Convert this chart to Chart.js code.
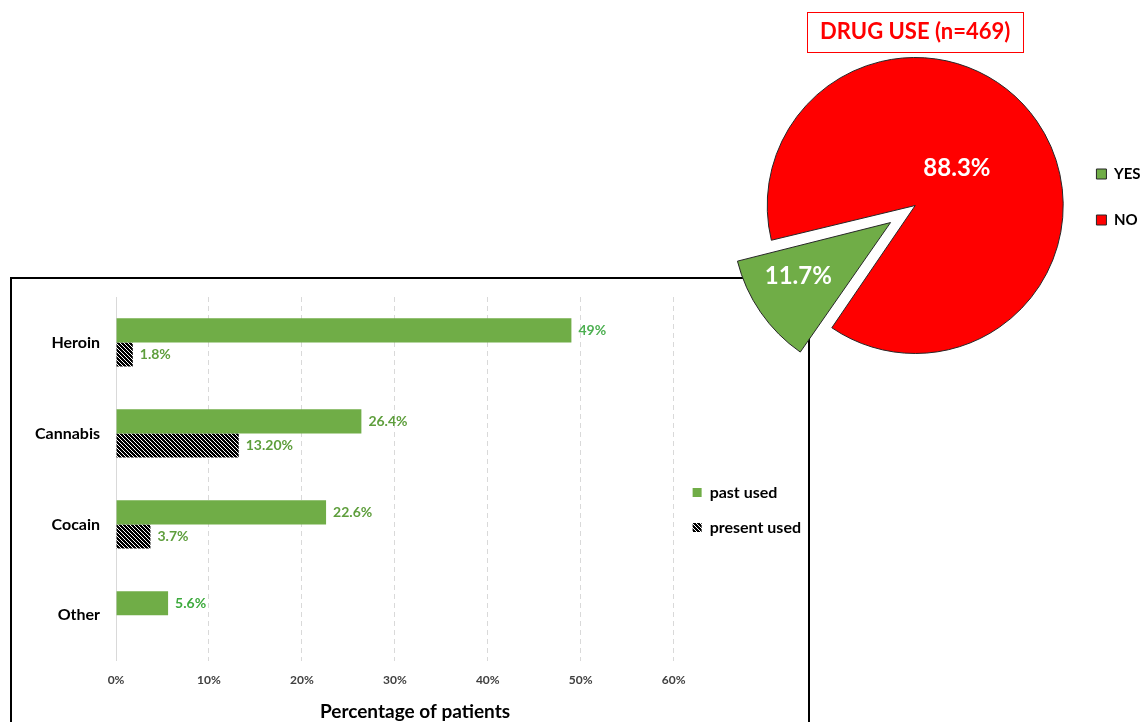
<!DOCTYPE html>
<html>
<head>
<meta charset="utf-8">
<script src="https://cdn.jsdelivr.net/npm/chart.js@4.4.1/dist/chart.umd.min.js"></script>
<style>
  html, body { margin: 0; padding: 0; background: #fff; overflow: hidden; width: 1142px; height: 722px; }
  #barBox { position: absolute; left: 10px; top: 277px; width: 800px; height: 480px; border: 2px solid #000; box-sizing: border-box; }
  #barChart { position: absolute; left: 0; top: -8px; }
  #pieChart { position: absolute; left: 680px; top: 0; z-index: 2; }
</style>
</head>
<body>
<div id="barBox"><canvas id="barChart" width="828" height="452"></canvas></div>
<canvas id="pieChart" width="500" height="400"></canvas>
<script>
// ---- data ----
const drugs = ['Heroin', 'Cannabis', 'Cocain', 'Other'];
const pastUsed = [49, 26.4, 22.6, 5.6];
const presentUsed = [1.8, 13.2, 3.7, null];
const pastUsedLabels = ['49%', '26.4%', '22.6%', '5.6%'];
const presentUsedLabels = ['1.8%', '13.20%', '3.7%', null];
const percentTicks = [0, 10, 20, 30, 40, 50, 60];

const useAnswers = ['YES', 'NO'];
const useShares = [11.7, 88.3];

// ---- styles ----
const FONT = 'Lato, "Open Sans", sans-serif';
const GREEN = '#70AD47';
const pastLabelColors = ['#4CAF50', '#5E9E3C', '#5E9E3C', '#3DAA3D'];
const presentLabelColor = '#5E9E3C';
const sliceColors = ['#70AD47', '#FF0000'];
const sliceShift = [30, 0];              // px the slice is pulled out of the pie
const sliceLabelRadius = [0.72, 0.38];   // fraction of the radius, from the slice tip
const sliceLabelTurn = [4.6, -7.5];      // degrees away from the slice bisector

// diagonal hatch used for "present used"
function makeHatch() {
  const c = document.createElement('canvas');
  c.width = 4; c.height = 4;
  const g = c.getContext('2d');
  g.fillStyle = '#000';
  g.fillRect(0, 0, 4, 4);
  g.fillStyle = '#fff';
  for (let i = 0; i < 4; i++) g.fillRect(i, i, 1, 1);
  return g.createPattern(c, 'repeat');
}
const hatch = makeHatch();

// value labels at the end of each bar
const barValueLabels = {
  id: 'barValueLabels',
  afterDatasetsDraw(chart) {
    const ctx = chart.ctx;
    const sets = [
      { texts: pastUsedLabels, colors: pastLabelColors },
      { texts: presentUsedLabels, colors: presentUsedLabels.map(() => presentLabelColor) }
    ];
    ctx.save();
    ctx.font = 'bold 14px ' + FONT;
    ctx.textBaseline = 'middle';
    ctx.textAlign = 'left';
    sets.forEach((s, di) => {
      const meta = chart.getDatasetMeta(di);
      meta.data.forEach((bar, i) => {
        if (!s.texts[i]) return;
        ctx.fillStyle = s.colors[i];
        ctx.fillText(s.texts[i], bar.x + 7, bar.y);
      });
    });
    ctx.restore();
  }
};

new Chart(document.getElementById('barChart'), {
  type: 'bar',
  data: {
    labels: drugs,
    datasets: [
      { label: 'past used', data: pastUsed, backgroundColor: GREEN, borderWidth: 0,
        barPercentage: 1, categoryPercentage: 0.53 },
      { label: 'present used', data: presentUsed, backgroundColor: hatch, borderWidth: 0,
        barPercentage: 1, categoryPercentage: 0.53 }
    ]
  },
  options: {
    indexAxis: 'y',
    responsive: false,
    animation: false,
    layout: { padding: { left: 7, right: 29, top: 26, bottom: 0 } },
    scales: {
      x: {
        min: 0, max: 60,
        afterBuildTicks(scale) { scale.ticks = percentTicks.map(v => ({ value: v })); },
        ticks: { callback: v => v + '%', font: { family: FONT, size: 12, weight: 'bold' }, color: '#404040', padding: 12 },
        grid: { color: '#d9d9d9', lineWidth: 1, drawTicks: false },
        border: { display: false, dash: c => (c.tick && c.tick.value === 0 ? [] : [5, 4]) }
      },
      y: {
        ticks: { font: { family: FONT, size: 16, weight: 'bold' }, color: '#000', padding: 16 },
        grid: { display: false, drawTicks: false },
        border: { display: false }
      }
    },
    plugins: {
      legend: {
        position: 'right',
        align: 'center',
        labels: { boxWidth: 9, boxHeight: 9, padding: 19, color: '#000',
                  font: { family: FONT, size: 16, weight: 'bold' } }
      },
      title: {
        display: true,
        position: 'bottom',
        text: 'Percentage of patients',
        color: '#000',
        font: { family: FONT, size: 19, weight: 'bold' },
        padding: { top: 1, bottom: 0 }
      },
      tooltip: { enabled: false }
    }
  },
  plugins: [barValueLabels]
});

// percentage labels inside the pie slices
const pieSliceLabels = {
  id: 'pieSliceLabels',
  afterDatasetsDraw(chart) {
    const ctx = chart.ctx;
    const meta = chart.getDatasetMeta(0);
    ctx.save();
    ctx.font = 'bold 24px ' + FONT;
    ctx.fillStyle = '#fff';
    ctx.textAlign = 'center';
    ctx.textBaseline = 'middle';
    meta.data.forEach((arc, i) => {
      const p = arc.getProps(['x', 'y', 'startAngle', 'endAngle', 'outerRadius'], true);
      const mid = (p.startAngle + p.endAngle) / 2;
      const tipX = p.x + Math.cos(mid) * sliceShift[i];
      const tipY = p.y + Math.sin(mid) * sliceShift[i];
      const a = mid + sliceLabelTurn[i] * Math.PI / 180;
      const r = p.outerRadius * sliceLabelRadius[i];
      ctx.fillText(useShares[i].toFixed(1) + '%', tipX + Math.cos(a) * r, tipY + Math.sin(a) * r);
    });
    ctx.restore();
  }
};

// red frame around the pie title
const titleFrame = {
  id: 'titleFrame',
  afterDraw(chart) {
    const t = chart.titleBlock;
    const opts = chart.options.plugins.title;
    const ctx = chart.ctx;
    ctx.save();
    ctx.font = 'bold ' + opts.font.size + 'px ' + FONT;
    const w = ctx.measureText(opts.text).width;
    const cx = (t.left + t.right) / 2;
    const cy = t.top + opts.padding.top + opts.font.size * 1.2 / 2;
    ctx.strokeStyle = '#FF0000';
    ctx.lineWidth = 1;
    ctx.strokeRect(Math.round(cx - w / 2 - 13) + 0.5, Math.round(cy - 20) + 0.5, Math.round(w + 26), 40);
    ctx.restore();
  }
};

new Chart(document.getElementById('pieChart'), {
  type: 'pie',
  data: {
    labels: useAnswers,
    datasets: [{
      data: useShares,
      backgroundColor: sliceColors,
      borderColor: '#262626',
      borderWidth: 1,
      // Chart.js moves an arc by a quarter of its offset
      offset: sliceShift.map(s => s * 4)
    }]
  },
  options: {
    responsive: false,
    animation: false,
    rotation: 214.3,
    radius: 148,
    layout: { padding: { left: 85, right: 29.5, top: 0, bottom: 41 } },
    plugins: {
      title: {
        display: true,
        fullSize: false,
        text: 'DRUG USE (n=469)',
        color: '#FF0000',
        font: { family: FONT, size: 22, weight: 'bold' },
        padding: { top: 18.8, bottom: 6.8 }
      },
      legend: {
        position: 'right',
        fullSize: false,
        align: 'start',
        title: { display: true, text: '', font: { size: 10 }, padding: { top: 71.5, bottom: 0 } },
        labels: { boxWidth: 10, boxHeight: 10, padding: 31, color: '#000',
                  font: { family: FONT, size: 15, weight: 'bold' } }
      },
      tooltip: { enabled: false }
    }
  },
  plugins: [pieSliceLabels, titleFrame]
});
</script>
</body>
</html>
